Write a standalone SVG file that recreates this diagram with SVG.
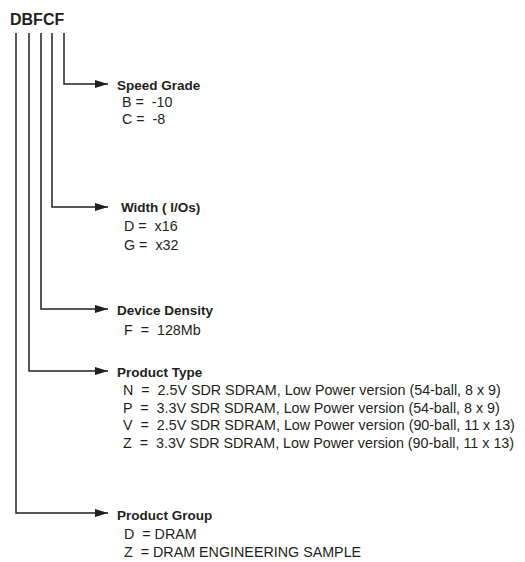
<svg xmlns="http://www.w3.org/2000/svg" width="525" height="562" viewBox="0 0 525 562">
<style>
text{font-family:"Liberation Sans",Arial,sans-serif;fill:#231f20;white-space:pre}
.t{font-size:16px;font-weight:bold}
.h{font-size:13.5px;font-weight:bold}
.v{font-size:14.3px}
.c{fill:none;stroke:#231f20;stroke-width:1.5}
</style>
<defs>
<marker id="ah" markerUnits="userSpaceOnUse" markerWidth="14" markerHeight="10" refX="13" refY="5" orient="auto">
<path d="M0,1 L13,5 L0,9 Z" fill="#231f20"/>
</marker>
</defs>
<g id="title"><text class="t" x="10" y="25">DBFCF</text></g>
<g id="connectors">
<path class="c" d="M64,33 V84 H108" marker-end="url(#ah)"/>
<path class="c" d="M52,33 V207 H108" marker-end="url(#ah)"/>
<path class="c" d="M41,33 V309 H108" marker-end="url(#ah)"/>
<path class="c" d="M29,33 V371 H108" marker-end="url(#ah)"/>
<path class="c" d="M16,33 V513 H108" marker-end="url(#ah)"/>
</g>
<g id="speed-grade">
<text class="h" x="117" y="90">Speed Grade</text>
<text class="v" x="122" y="107" xml:space="preserve">B =  -10</text>
<text class="v" x="122" y="124" xml:space="preserve">C =  -8</text>
</g>
<g id="width">
<text class="h" x="121" y="212">Width ( I/Os)</text>
<text class="v" x="124" y="231" xml:space="preserve">D =  x16</text>
<text class="v" x="124" y="250" xml:space="preserve">G =  x32</text>
</g>
<g id="device-density">
<text class="h" x="117" y="315">Device Density</text>
<text class="v" x="124" y="335" xml:space="preserve">F  =  128Mb</text>
</g>
<g id="product-type">
<text class="h" x="117" y="377">Product Type</text>
<text class="v" x="123" y="395" xml:space="preserve">N  =  2.5V SDR SDRAM, Low Power version (54-ball, 8 x 9)</text>
<text class="v" x="123" y="412.5" xml:space="preserve">P  =  3.3V SDR SDRAM, Low Power version (54-ball, 8 x 9)</text>
<text class="v" x="123" y="430" xml:space="preserve">V  =  2.5V SDR SDRAM, Low Power version (90-ball, 11 x 13)</text>
<text class="v" x="123" y="447.5" xml:space="preserve">Z  =  3.3V SDR SDRAM, Low Power version (90-ball, 11 x 13)</text>
</g>
<g id="product-group">
<text class="h" x="117" y="520">Product Group</text>
<text class="v" x="124" y="539" xml:space="preserve">D  = DRAM</text>
<text class="v" x="124" y="557" xml:space="preserve">Z  = DRAM ENGINEERING SAMPLE</text>
</g>
</svg>
